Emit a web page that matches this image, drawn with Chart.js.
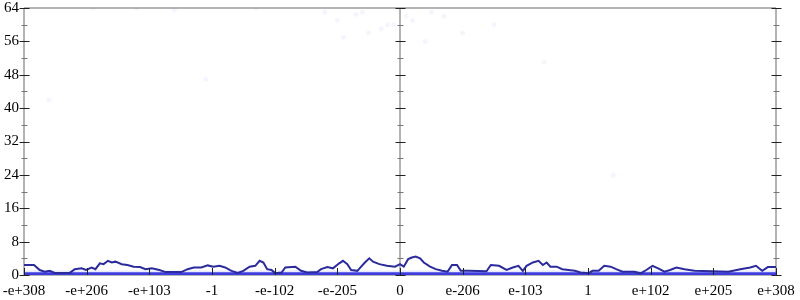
<!DOCTYPE html>
<html lang="en">
<head>
  <meta charset="UTF-8" />
  <title>Float distribution</title>
  <script src="https://cdn.jsdelivr.net/npm/chart.js"></script>
  <style>
    body { margin: 0; padding: 0; background: #fff; }
    #wrap { width: 800px; height: 300px; }
  </style>
</head>
<body>
  <div id="wrap"><canvas id="c" width="800" height="300"></canvas></div>
  <script>
    // x axis is in "tick units": -6 .. 6, one unit per labelled tick
    const xTickLabels = ['-e+308', '-e+206', '-e+103', '-1', '-e-102', '-e-205', '0',
                         'e-206', 'e-103', '1', 'e+102', 'e+205', 'e+308'];
    const yTicks = [0, 8, 16, 24, 32, 40, 48, 56, 64];

    // main (dark blue) line
    const lineX = [-6.00,-5.84,-5.75,-5.67,-5.59,-5.51,-5.27,-5.19,-5.08,-5.01,-4.92,-4.86,-4.79,-4.73,-4.66,-4.60,-4.54,-4.44,-4.35,-4.25,
      -4.15,-4.06,-3.96,-3.84,-3.74,-3.49,-3.39,-3.29,-3.17,-3.07,-2.98,-2.88,-2.79,-2.69,-2.59,-2.50,-2.40,-2.31,-2.24,-2.18,
      -2.12,-2.05,-1.99,-1.89,-1.83,-1.67,-1.58,-1.48,-1.32,-1.26,-1.16,-1.07,-0.97,-0.91,-0.84,-0.78,-0.68,-0.62,-0.56,-0.49,
      -0.43,-0.33,-0.21,-0.08,0.00,0.06,0.13,0.19,0.25,0.32,0.38,0.48,0.57,0.67,0.76,0.83,0.91,0.97,1.10,1.38,
      1.45,1.58,1.70,1.80,1.89,1.96,2.02,2.12,2.21,2.28,2.34,2.40,2.50,2.59,2.69,2.79,2.88,3.01,3.07,3.17,
      3.26,3.36,3.45,3.55,3.74,3.84,3.93,4.03,4.12,4.22,4.31,4.41,4.54,4.70,5.24,5.43,5.59,5.68,5.78,5.87,6.00];
    const lineY = [2.4,2.4,1.2,0.8,1.0,0.5,0.5,1.4,1.6,1.2,1.8,1.4,2.8,2.6,3.4,3.0,3.2,2.6,2.4,2.0,
      1.9,1.4,1.6,1.2,0.7,0.7,1.4,1.8,1.8,2.3,2.0,2.2,1.8,1.0,0.5,1.0,2.0,2.2,3.4,3.0,
      1.4,1.2,0.4,0.6,1.8,2.0,1.0,0.6,0.7,1.4,1.9,1.6,2.8,3.4,2.6,1.2,1.0,2.0,3.0,4.0,
      3.2,2.6,2.2,2.0,2.6,2.0,3.8,4.2,4.4,4.0,3.0,2.0,1.4,1.0,0.8,2.4,2.4,1.0,1.0,0.9,
      2.4,2.2,1.2,1.8,2.2,1.0,2.2,3.0,3.4,2.4,3.0,2.0,2.0,1.4,1.2,1.0,0.6,0.4,1.0,1.0,
      2.2,2.0,1.4,0.8,0.8,0.4,1.2,2.2,1.6,0.8,1.2,1.8,1.4,1.0,0.8,1.4,1.8,2.2,1.0,1.9,1.9];

    // faint scattered samples
    const dotX = [-4.9,-4.2,-3.6,-2.3,-1.2,-1.0,-0.7,-0.5,-0.3,-0.2,0.1,0.2,0.5,0.7,1.0,1.5,-5.6,-3.1,2.3,3.4,-0.9,0.4,-0.1,-0.6];
    const dotY = [64,64,63.5,64,63,61,62.5,58,59,60,62,61,63,62,58,60,42,47,51,24,57,56,60,63];
    const bandY = 1.1; // faint band just above zero
    const zeroY = 0.3;

    const axisGray = '#b4b4b4';
    const font = '15px "Liberation Serif", serif';

    const axesPlugin = {
      id: 'axes',
      beforeDatasetsDraw(chart) {
        const { ctx, scales: { x, y } } = chart;
        ctx.save();
        ctx.strokeStyle = axisGray;
        ctx.lineWidth = 2;
        ctx.beginPath();
        ctx.moveTo(x.getPixelForValue(-6), y.getPixelForValue(64));
        ctx.lineTo(x.getPixelForValue(6), y.getPixelForValue(64));
        ctx.moveTo(x.getPixelForValue(-6), y.getPixelForValue(0));
        ctx.lineTo(x.getPixelForValue(6), y.getPixelForValue(0));
        [-6, 0, 6].forEach(v => {
          const px = x.getPixelForValue(v);
          ctx.moveTo(px, y.getPixelForValue(0));
          ctx.lineTo(px, y.getPixelForValue(64));
        });
        ctx.stroke();
        ctx.restore();
      },
      afterDraw(chart) {
        const { ctx, scales: { x, y } } = chart;
        ctx.save();
        ctx.lineWidth = 1;
        // ticks on the three vertical axes
        [-6, 0, 6].forEach(v => {
          const px = Math.round(x.getPixelForValue(v)) + 0.5;
          for (let t = 0; t <= 64; t += 4) {
            const py = Math.round(y.getPixelForValue(t)) + 0.5;
            const major = t % 8 === 0;
            ctx.strokeStyle = major ? '#222' : '#777';
            const w = major ? 5 : 3;
            ctx.beginPath();
            ctx.moveTo(px - w, py);
            ctx.lineTo(px + w, py);
            ctx.stroke();
          }
        });
        // bottom ticks
        ctx.strokeStyle = '#222';
        xTickLabels.forEach((lab, i) => {
          const px = Math.round(x.getPixelForValue(i - 6)) + 0.5;
          const py = y.getPixelForValue(0);
          ctx.beginPath();
          ctx.moveTo(px, py);
          ctx.lineTo(px, py - 7);
          ctx.stroke();
        });
        // labels
        ctx.fillStyle = '#000';
        ctx.font = font;
        ctx.textAlign = 'right';
        ctx.textBaseline = 'middle';
        yTicks.forEach(t => {
          ctx.fillText(String(t), x.getPixelForValue(-6) - 5, y.getPixelForValue(t));
        });
        ctx.textAlign = 'center';
        xTickLabels.forEach((lab, i) => {
          ctx.fillText(lab, x.getPixelForValue(i - 6), y.getPixelForValue(0) + 16);
        });
        ctx.restore();
      }
    };

    new Chart(document.getElementById('c'), {
      type: 'scatter',
      data: {
        datasets: [
          {
            data: dotX.map((v, i) => ({ x: v, y: dotY[i] })),
            pointRadius: 2.5,
            pointBorderWidth: 0,
            backgroundColor: 'rgba(90,90,230,0.06)',
            order: 4
          },
          {
            type: 'line',
            data: [{ x: -6, y: bandY }, { x: 6, y: bandY }],
            borderWidth: 0,
            pointRadius: 0,
            fill: 'origin',
            backgroundColor: 'rgba(110,110,240,0.15)',
            order: 3
          },
          {
            type: 'line',
            data: [{ x: -6, y: zeroY }, { x: 6, y: zeroY }],
            borderColor: '#3c3ce0',
            borderWidth: 3,
            pointRadius: 0,
            order: 2
          },
          {
            type: 'line',
            data: lineX.map((v, i) => ({ x: v, y: lineY[i] })),
            borderColor: '#2b2b9c',
            borderWidth: 2,
            pointRadius: 0,
            tension: 0,
            order: 1
          }
        ]
      },
      options: {
        responsive: false,
        animation: false,
        layout: { padding: { left: 24, right: 24, top: 8, bottom: 25 } },
        plugins: { legend: { display: false }, tooltip: { enabled: false } },
        scales: {
          x: { type: 'linear', min: -6, max: 6, display: false },
          y: { min: 0, max: 64, display: false }
        }
      },
      plugins: [axesPlugin]
    });
  </script>
</body>
</html>
